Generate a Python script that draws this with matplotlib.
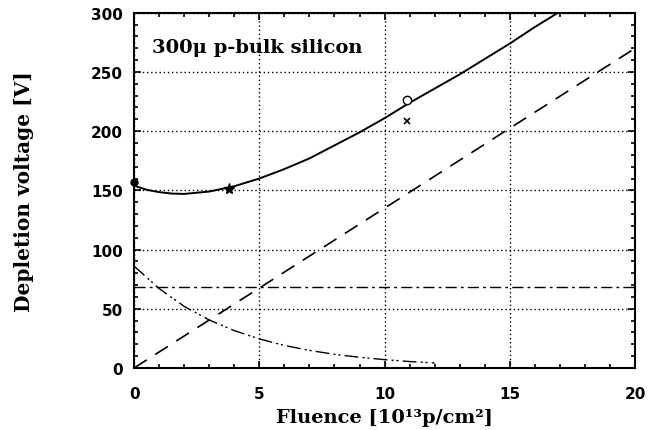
import matplotlib; matplotlib.use("Agg")
import matplotlib.pyplot as plt
from matplotlib.ticker import MultipleLocator

# total depletion voltage (solid)
x_tot = [0, 0.5, 1, 1.5, 2, 3, 4, 5, 6, 7, 8, 9, 10, 11, 12, 13, 14, 15, 16, 17, 17.3]
v_tot = [154, 150.5, 148.5, 147.3, 147, 149, 153.5, 160, 168, 177, 188, 199, 211, 224, 236, 248, 261, 274, 288, 301, 305]
# stable damage, linear (dashed)
x_lin = [0, 5, 10, 15, 20]
v_lin = [0, 67.5, 135, 202.5, 270]
# constant part (dash-dot)
x_const = [0, 20]
v_const = [68, 68]
# decaying part (dash-dot-dot)
x_dec = [0, 1, 2, 3, 4, 5, 6, 7, 8, 9, 10, 11, 12]
v_dec = [86, 67, 52, 40.5, 31.5, 24.5, 19, 14.8, 11.5, 9, 7, 5.4, 4.2]
# measured points
pt_x = {"dot": [0.0], "star": [3.8], "open": [10.9], "cross": [10.9]}
pt_y = {"dot": [157], "star": [151], "open": [226], "cross": [209]}

x_ticks = [0, 5, 10, 15, 20]
y_ticks = [0, 50, 100, 150, 200, 250, 300]

serif = ["DejaVu Serif"]
plt.rcParams.update({"font.family": "DejaVu Sans", "font.weight": "bold"})

fig = plt.figure(figsize=(6.48, 4.31), dpi=100)
ax = fig.add_axes([0.207, 0.144, 0.773, 0.824])

ax.plot(x_tot, v_tot, "-", color="black", lw=1.4)
ax.plot(x_lin, v_lin, color="black", lw=1.2, dashes=(9, 6))
ax.plot(x_const, v_const, color="black", lw=1.0, dashes=(8, 3, 2, 3))
ax.plot(x_dec, v_dec, color="black", lw=1.0, dashes=(10, 3, 1.5, 2, 1.5, 3))

ax.plot(pt_x["dot"], pt_y["dot"], "o", color="black", ms=5, clip_on=False)
ax.plot(pt_x["star"], pt_y["star"], "*", color="black", ms=8)
ax.plot(pt_x["open"], pt_y["open"], "o", mfc="white", mec="black", ms=6, mew=1.0)
ax.plot(pt_x["cross"], pt_y["cross"], "x", color="black", ms=5, mew=1.2)

ax.set_xlim(0, 20); ax.set_ylim(0, 300)
ax.set_xticks(x_ticks); ax.set_yticks(y_ticks)
ax.xaxis.set_minor_locator(MultipleLocator(1))
ax.yaxis.set_minor_locator(MultipleLocator(10))
ax.tick_params(which="both", direction="in", top=True, right=True, labelsize=11, width=1.2)
ax.tick_params(axis="x", which="major", length=5, pad=13)
ax.tick_params(axis="y", which="major", length=5, pad=8)
ax.tick_params(which="minor", length=3)
for s in ax.spines.values(): s.set_linewidth(1.5)
ax.grid(True, which="major", ls=(0, (1, 2)), color="black", lw=1.0)

ax.set_xlabel("Fluence [10\u00b9\u00b3p/cm\u00b2]", fontsize=14, fontweight="bold", family=serif, labelpad=5)
ax.set_ylabel("Depletion voltage [V]", fontsize=14.5, fontweight="bold", family=serif)
ax.yaxis.set_label_coords(-0.2, 0.5)
ax.text(0.036, 0.905, "300\u03bc p-bulk silicon", transform=ax.transAxes, fontsize=14,
        fontweight="bold", family=serif, ha="left", va="center")

fig.savefig("out.png", dpi=100)
